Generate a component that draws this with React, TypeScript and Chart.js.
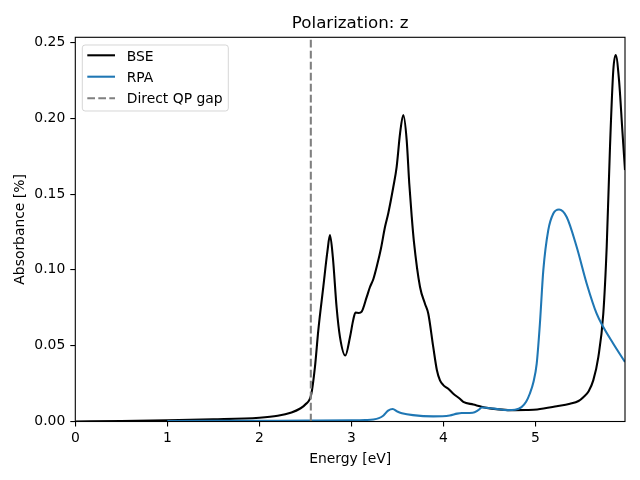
import { useEffect, useRef } from "react";
import { Chart, registerables } from "chart.js";

Chart.register(...registerables);

// ---- data ----
const bseEnergy = [
  0, 0.5, 1.0, 1.5, 2.0, 2.2, 2.35, 2.44, 2.5, 2.565, 2.605, 2.641, 2.696, 2.74, 2.768, 2.8, 2.84, 2.877,
  2.935, 2.986, 3.02, 3.045, 3.08, 3.113, 3.167, 3.203, 3.24, 3.28, 3.323, 3.366, 3.402, 3.457, 3.493, 3.53,
  3.565, 3.602, 3.63, 3.657, 3.68, 3.747, 3.801, 3.837, 3.891, 3.93, 3.964, 4.0, 4.054, 4.109, 4.18, 4.217,
  4.326, 4.472, 4.6, 4.725, 4.9, 5.02, 5.233, 5.377, 5.47, 5.522, 5.58, 5.63, 5.685, 5.739, 5.776, 5.812,
  5.848, 5.874, 5.91, 5.946, 5.975,
];
const bseAbsorbance = [
  0, 0.0003, 0.0008, 0.0014, 0.0025, 0.0038, 0.006, 0.0084, 0.0112, 0.018, 0.036, 0.06, 0.089, 0.112, 0.1229,
  0.108, 0.0755, 0.0557, 0.0435, 0.0557, 0.0667, 0.0718, 0.0716, 0.0725, 0.082, 0.0887, 0.094, 0.103, 0.1143,
  0.1283, 0.1374, 0.1548, 0.168, 0.19, 0.2021, 0.1856, 0.157, 0.135, 0.119, 0.0887, 0.0777, 0.0711, 0.049,
  0.034, 0.0271, 0.024, 0.0216, 0.0183, 0.015, 0.013, 0.0112, 0.009, 0.008, 0.0075, 0.0076, 0.0079, 0.01,
  0.0117, 0.0135, 0.016, 0.02, 0.0271, 0.0425, 0.0711, 0.1151, 0.1812, 0.2318, 0.2417, 0.2252, 0.1922, 0.1658,
];
const rpaEnergy = [
  1.0, 1.5, 2.0, 2.5, 3.0, 3.15, 3.24, 3.3, 3.35, 3.4, 3.45, 3.5, 3.55, 3.67, 3.89, 4.07, 4.15, 4.2, 4.32,
  4.38, 4.42, 4.55, 4.7, 4.78, 4.85, 4.9, 4.94, 4.98, 5.015, 5.05, 5.087, 5.141, 5.196, 5.258, 5.341, 5.45,
  5.559, 5.667, 5.739, 5.848, 5.975,
];
const rpaAbsorbance = [
  0.0003, 0.0004, 0.0005, 0.0006, 0.0008, 0.001, 0.0013, 0.0022, 0.004, 0.0072, 0.0083, 0.0066, 0.0055,
  0.0042, 0.0034, 0.004, 0.0052, 0.0056, 0.0058, 0.0075, 0.0092, 0.0085, 0.0075, 0.0078, 0.0095, 0.013,
  0.0183, 0.026, 0.038, 0.0645, 0.0997, 0.1262, 0.1372, 0.1398, 0.1349, 0.1151, 0.0909, 0.0711, 0.0623,
  0.0513, 0.0392,
];
const directGap = 2.56;
const xTicks = [0, 1, 2, 3, 4, 5];
const yTicks = [0, 0.05, 0.1, 0.15, 0.2, 0.25];
const xMax = 5.975;
const yMax = 0.2534;

const titleText = "Polarization: z";
const xLabel = "Energy [eV]";
const yLabel = "Absorbance [%]";
const legendLabels = ["BSE", "RPA", "Direct QP gap"];

const FONT = "'DejaVu Sans', sans-serif";
const BLUE = "#1f77b4";
const GRAY = "#808080";
const DASH = [7.7, 3.3];

// layout (pixels)
const PLOT_LEFT = 75.3;
const PLOT_RIGHT = 625;
const PLOT_TOP = 37.3;
const PLOT_BOTTOM = 421.5;

const decorPlugin = {
  id: "decor",
  afterDraw(chart: any) {
    const ctx = chart.ctx as CanvasRenderingContext2D;
    const a = chart.chartArea;
    ctx.save();
    // frame (spines)
    ctx.strokeStyle = "#000";
    ctx.lineWidth = 1.1;
    ctx.strokeRect(a.left, a.top, a.right - a.left, a.bottom - a.top);

    // title
    ctx.fillStyle = "#000";
    ctx.textAlign = "center";
    ctx.textBaseline = "alphabetic";
    ctx.font = `16.7px ${FONT}`;
    ctx.fillText(titleText, (a.left + a.right) / 2, 28.3);

    // x label
    ctx.font = `13.9px ${FONT}`;
    ctx.fillText(xLabel, (a.left + a.right) / 2, 462.7);

    // y label
    ctx.save();
    ctx.translate(24, (a.top + a.bottom) / 2);
    ctx.rotate(-Math.PI / 2);
    ctx.fillText(yLabel, 0, 0);
    ctx.restore();

    // legend
    const bx = 82.3, by = 45, bw = 146, bh = 66, r = 2.8;
    ctx.beginPath();
    ctx.moveTo(bx + r, by);
    ctx.lineTo(bx + bw - r, by);
    ctx.arcTo(bx + bw, by, bx + bw, by + r, r);
    ctx.lineTo(bx + bw, by + bh - r);
    ctx.arcTo(bx + bw, by + bh, bx + bw - r, by + bh, r);
    ctx.lineTo(bx + r, by + bh);
    ctx.arcTo(bx, by + bh, bx, by + bh - r, r);
    ctx.lineTo(bx, by + r);
    ctx.arcTo(bx, by, bx + r, by, r);
    ctx.closePath();
    ctx.fillStyle = "rgba(255,255,255,0.8)";
    ctx.fill();
    ctx.strokeStyle = "rgba(204,204,204,0.8)";
    ctx.lineWidth = 1;
    ctx.stroke();

    const handleY = [55.3, 76.7, 98.2];
    const textY = [61, 82.3, 103.3];
    const colors = ["#000", BLUE, GRAY];
    for (let i = 0; i < 3; i++) {
      ctx.beginPath();
      ctx.strokeStyle = colors[i];
      ctx.lineWidth = 2.08;
      ctx.setLineDash(i === 2 ? DASH : []);
      ctx.moveTo(87.3, handleY[i]);
      ctx.lineTo(115, handleY[i]);
      ctx.stroke();
      ctx.setLineDash([]);
      ctx.fillStyle = "#000";
      ctx.textAlign = "left";
      ctx.font = `13.9px ${FONT}`;
      ctx.fillText(legendLabels[i], 126.7, textY[i]);
    }
    ctx.restore();
  },
};

export default function App() {
  const ref = useRef<HTMLCanvasElement | null>(null);

  useEffect(() => {
    if (!ref.current) return;
    const bsePts = bseEnergy.map((x, i) => ({ x, y: bseAbsorbance[i] }));
    const rpaPts = rpaEnergy.map((x, i) => ({ x, y: rpaAbsorbance[i] }));
    const gapPts = [
      { x: directGap, y: 0 },
      { x: directGap, y: yMax },
    ];
    const chart = new Chart(ref.current, {
      type: "line",
      data: {
        datasets: [
          {
            label: legendLabels[2],
            data: gapPts,
            borderColor: GRAY,
            borderWidth: 2.08,
            borderDash: DASH,
            pointRadius: 0,
            order: 0,
          },
          {
            label: legendLabels[1],
            data: rpaPts,
            borderColor: BLUE,
            borderWidth: 2.08,
            pointRadius: 0,
            cubicInterpolationMode: "monotone",
            borderJoinStyle: "round",
            order: 1,
          },
          {
            label: legendLabels[0],
            data: bsePts,
            borderColor: "#000",
            borderWidth: 2.08,
            pointRadius: 0,
            cubicInterpolationMode: "monotone",
            borderJoinStyle: "round",
            order: 2,
          },
        ],
      },
      options: {
        responsive: false,
        animation: false,
        devicePixelRatio: 1,
        layout: { padding: { left: 0, right: 640 - PLOT_RIGHT, top: PLOT_TOP, bottom: 0 } },
        plugins: { legend: { display: false }, title: { display: false }, tooltip: { enabled: false } },
        events: [],
        scales: {
          x: {
            type: "linear",
            min: 0,
            max: xMax,
            afterFit: (s: any) => {
              s.height = 480 - PLOT_BOTTOM;
            },
            afterBuildTicks: (s: any) => {
              s.ticks = xTicks.map((v) => ({ value: v }));
            },
            ticks: {
              color: "#000",
              font: { family: FONT, size: 13.9 },
              padding: 4,
              maxRotation: 0,
              autoSkip: false,
              callback: (v: any) => String(v),
            },
            grid: { drawOnChartArea: false, drawTicks: true, tickLength: 5, color: "#000", lineWidth: 1.1 },
            border: { display: false },
          },
          y: {
            type: "linear",
            min: 0,
            max: yMax,
            afterFit: (s: any) => {
              s.width = PLOT_LEFT;
            },
            afterBuildTicks: (s: any) => {
              s.ticks = yTicks.map((v) => ({ value: v }));
            },
            ticks: {
              color: "#000",
              font: { family: FONT, size: 13.9 },
              padding: 5,
              autoSkip: false,
              callback: (v: any) => Number(v).toFixed(2),
            },
            grid: { drawOnChartArea: false, drawTicks: true, tickLength: 5, color: "#000", lineWidth: 1.1 },
            border: { display: false },
          },
        },
      },
      plugins: [decorPlugin],
    } as any);
    return () => chart.destroy();
  }, []);

  return (
    <div style={{ position: "absolute", left: 0, top: 0, width: 640, height: 480, background: "#fff" }}>
      <canvas ref={ref} width={640} height={480} style={{ width: 640, height: 480, display: "block" }} />
    </div>
  );
}
